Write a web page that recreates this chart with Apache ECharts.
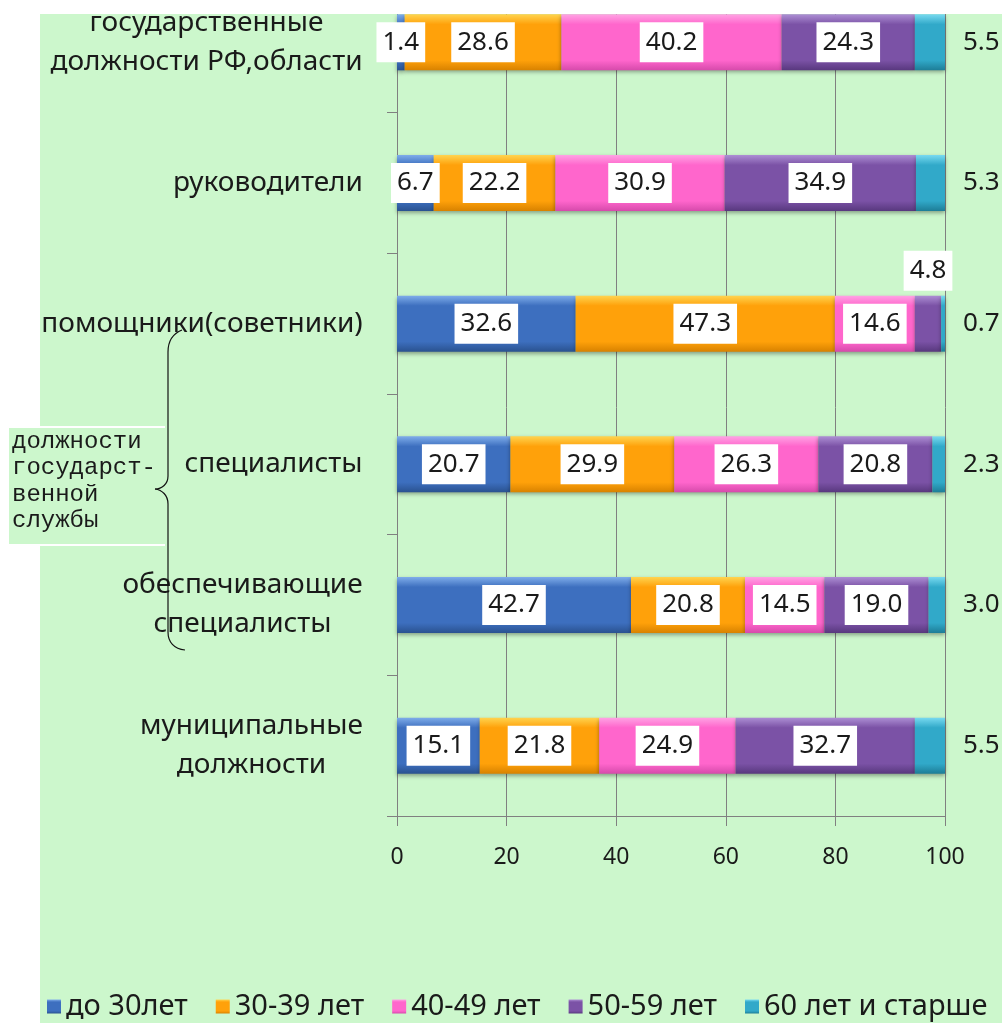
<!DOCTYPE html>
<html>
<head>
    <meta charset='utf-8'/>
    <title>Возрастной состав</title>
    <style>
        body {
            margin: 0;
            padding: 0;
            background: #fff;
        }

        #chart {
            width: 1002px;
            height: 1023px;
        }
    </style>
</head>
<body>
<div id='chart'></div>
<script type="text/javascript" src="https://cdn.jsdelivr.net/npm/echarts@6/dist/echarts.min.js"></script>
<script type="text/javascript">
    var categories = ['государственные\nдолжности РФ,области', 'руководители', 'помощники(советники)',
        'специалисты', 'обеспечивающие\nспециалисты', 'муниципальные\nдолжности'];
    var seriesNames = ['до 30лет', '30-39 лет', '40-49 лет', '50-59 лет', '60 лет и старше'];
    var under30 = [1.4, 6.7, 32.6, 20.7, 42.7, 15.1];
    var age30to39 = [28.6, 22.2, 47.3, 29.9, 20.8, 21.8];
    var age40to49 = [40.2, 30.9, 14.6, 26.3, 14.5, 24.9];
    var age50to59 = [24.3, 34.9, 4.8, 20.8, 19.0, 32.7];
    var age60plus = [5.5, 5.3, 0.7, 2.3, 3.0, 5.5];
    var xTicks = [0, 20, 40, 60, 80, 100];

    var font = '"Noto Sans", "DejaVu Sans", sans-serif';
    var green = '#ccf7cc';
    // base, light, dark per series (bevel look)
    var palette = [
        ['#3d6fbf', '#7fadea', '#2a5290'],
        ['#ffa10a', '#ffd44f', '#d88200'],
        ['#ff66cc', '#ffa3e4', '#d64aab'],
        ['#7b52a6', '#ad8fd4', '#58387e'],
        ['#31a9c9', '#78daf0', '#1d7d97']
    ];

    function bevel(c) {
        return new echarts.graphic.LinearGradient(0, 0, 0, 1, [
            {offset: 0, color: c[1]},
            {offset: 0.18, color: c[0]},
            {offset: 0.82, color: c[0]},
            {offset: 1, color: c[2]}
        ]);
    }

    // rich styles so that multi-line category names are centred within a right-aligned block
    var catSize = 28;
    var ctx = document.createElement('canvas').getContext('2d');
    ctx.font = catSize + 'px ' + font;
    var rich = {};
    categories.forEach(function (c, i) {
        var w = 0;
        c.split('\n').forEach(function (l) {
            w = Math.max(w, ctx.measureText(l).width);
        });
        rich['c' + i] = {
            width: Math.ceil(w) + 2, align: 'center', fontSize: catSize, lineHeight: 39,
            fontFamily: font, color: '#1a1a1a'
        };
    });

    function fmt(p) {
        return p.value.toFixed(1);
    }

    var boxLabel = {
        show: true,
        position: 'inside',
        backgroundColor: '#fff',
        color: '#1a1a1a',
        fontFamily: font,
        fontSize: 26,
        lineHeight: 30,
        padding: [5, 6, 5, 6],
        formatter: fmt
    };

    var allData = [under30, age30to39, age40to49, age50to59, age60plus];
    var series = allData.map(function (arr, s) {
        var data = arr.map(function (v, i) {
            // the narrow 50-59 segment of "помощники" carries its label above the bar
            if (s === 3 && i === 2) {
                return {value: v, label: {position: 'top', distance: 5}};
            }
            return v;
        });
        var label = s < 4 ? boxLabel : {
            show: true,
            position: 'right',
            distance: 18,
            color: '#1a1a1a',
            fontFamily: font,
            fontSize: 26,
            formatter: fmt
        };
        return {
            name: seriesNames[s],
            type: 'bar',
            stack: 'total',
            barWidth: 56,
            data: data,
            label: label,
            itemStyle: {
                color: bevel(palette[s]),
                shadowColor: 'rgba(0,0,0,0.35)',
                shadowBlur: 4,
                shadowOffsetY: 2
            }
        };
    });

    var chart = echarts.init(document.getElementById('chart'), null, {renderer: 'canvas'});
    chart.setOption({
        backgroundColor: '#fff',
        animation: false,
        grid: {left: 397, right: 57, top: -28, bottom: 207, outerBoundsMode: 'none', containLabel: false},
        legend: {
            data: seriesNames,
            left: 42,
            top: 987,
            icon: 'rect',
            itemWidth: 14,
            itemHeight: 14,
            itemGap: 28,
            textStyle: {fontFamily: font, fontSize: 29, color: '#1a1a1a'}
        },
        xAxis: {
            type: 'value',
            min: xTicks[0],
            max: xTicks[xTicks.length - 1],
            interval: 20,
            axisLine: {show: true, lineStyle: {color: '#808080', width: 1}},
            axisTick: {show: true, length: 10, lineStyle: {color: '#808080'}},
            splitLine: {show: true, lineStyle: {color: '#808080', width: 1}},
            axisLabel: {margin: 30, fontFamily: font, fontSize: 23, color: '#1a1a1a'}
        },
        yAxis: {
            type: 'category',
            inverse: true,
            data: categories,
            axisLine: {show: true, lineStyle: {color: '#808080', width: 1}},
            axisTick: {show: true, length: 10, lineStyle: {color: '#808080'}},
            axisLabel: {
                margin: 33,
                align: 'right',
                formatter: function (v, i) {
                    return v.split('\n').map(function (l) {
                        return '{c' + i + '|' + l + '}';
                    }).join('\n');
                },
                rich: rich
            }
        },
        series: series,
        graphic: [
            {type: 'rect', z: -100, silent: true, shape: {x: 40, y: 14, width: 962, height: 1009}, style: {fill: green}},
            {type: 'rect', z: 100, silent: true, shape: {x: 0, y: 0, width: 1002, height: 14}, style: {fill: '#fff'}},
            {type: 'rect', z: 90, silent: true, shape: {x: 9, y: 427, width: 156, height: 118}, style: {fill: green}},
            {type: 'line', z: 91, silent: true, shape: {x1: 9, y1: 427, x2: 165, y2: 427}, style: {stroke: '#fff', lineWidth: 2}},
            {type: 'line', z: 91, silent: true, shape: {x1: 9, y1: 545, x2: 165, y2: 545}, style: {stroke: '#fff', lineWidth: 2}},
            {
                type: 'text', z: 92, silent: true, left: 12, top: 428,
                style: {
                    text: 'должности\nгосударст-\nвенной\nслужбы',
                    font: '24px "Liberation Mono", "DejaVu Sans Mono", monospace',
                    lineHeight: 26.5,
                    fill: '#1a1a1a'
                }
            },
            {type: 'bezierCurve', z: 93, silent: true,
                shape: {x1: 182, y1: 330, cpx1: 172, cpy1: 334, cpx2: 168, cpy2: 342, x2: 168, y2: 352},
                style: {stroke: '#111', lineWidth: 1.2, fill: null}},
            {type: 'line', z: 93, silent: true, shape: {x1: 168, y1: 352, x2: 168, y2: 476}, style: {stroke: '#111', lineWidth: 1.2}},
            {type: 'bezierCurve', z: 93, silent: true,
                shape: {x1: 168, y1: 476, cpx1: 168, cpy1: 484, cpx2: 162, cpy2: 489, x2: 155, y2: 489},
                style: {stroke: '#111', lineWidth: 1.2, fill: null}},
            {type: 'bezierCurve', z: 93, silent: true,
                shape: {x1: 155, y1: 489, cpx1: 162, cpy1: 490, cpx2: 168, cpy2: 495, x2: 168, y2: 504},
                style: {stroke: '#111', lineWidth: 1.2, fill: null}},
            {type: 'line', z: 93, silent: true, shape: {x1: 168, y1: 504, x2: 168, y2: 632}, style: {stroke: '#111', lineWidth: 1.2}},
            {type: 'bezierCurve', z: 93, silent: true,
                shape: {x1: 168, y1: 632, cpx1: 168, cpy1: 642, cpx2: 174, cpy2: 649, x2: 185, y2: 650},
                style: {stroke: '#111', lineWidth: 1.2, fill: null}}
        ]
    });
</script>
</body>
</html>
